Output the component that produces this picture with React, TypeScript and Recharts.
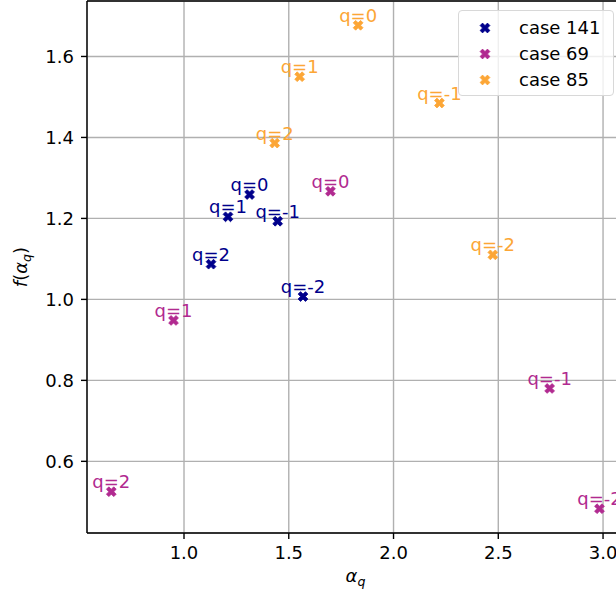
import {
  ScatterChart,
  Scatter,
  XAxis,
  YAxis,
  CartesianGrid,
  ReferenceLine,
  Legend,
} from "recharts";

const qLabels = ["q=2", "q=1", "q=0", "q=-1", "q=-2"];

const case141Alpha = [1.129, 1.21, 1.313, 1.447, 1.568];
const case141F = [1.087, 1.204, 1.259, 1.193, 1.007];

const case69Alpha = [0.653, 0.95, 1.699, 2.745, 2.983];
const case69F = [0.525, 0.948, 1.267, 0.78, 0.483];

const case85Alpha = [1.433, 1.552, 1.831, 2.219, 2.474];
const case85F = [1.386, 1.55, 1.677, 1.485, 1.11];

const xTicks = [1.0, 1.5, 2.0, 2.5, 3.0];
const yTicks = [0.6, 0.8, 1.0, 1.2, 1.4, 1.6];
const xDomain: [number, number] = [0.537, 3.1];
const yDomain: [number, number] = [0.423, 1.737];

const series = [
  { name: "case 141", color: "#00008b", alpha: case141Alpha, f: case141F },
  { name: "case 69", color: "#b12a90", alpha: case69Alpha, f: case69F },
  { name: "case 85", color: "#fca636", alpha: case85Alpha, f: case85F },
];

const toRows = (alpha: number[], f: number[]) =>
  alpha.map((a, i) => ({ alpha: a, f: f[i], label: qLabels[i] }));

const FONT = "DejaVu Sans, sans-serif";
const FS = 18;
const MARKER = 10.4;

// matplotlib "X" filled marker: a plus shape rotated by 45 degrees
const plusVerts = [
  [-1, -3], [1, -3], [1, -1], [3, -1], [3, 1], [1, 1],
  [1, 3], [-1, 3], [-1, 1], [-3, 1], [-3, -1], [-1, -1],
];
const xPath = (cx: number, cy: number, size: number) => {
  const s = size / 6;
  const c = Math.SQRT1_2;
  return (
    plusVerts
      .map(([px, py], i) => {
        const rx = (px * c - py * c) * s + cx;
        const ry = (px * c + py * c) * s + cy;
        return `${i === 0 ? "M" : "L"}${rx.toFixed(2)},${ry.toFixed(2)}`;
      })
      .join(" ") + " Z"
  );
};

const makeShape = (color: string) => (props: any) => {
  const { cx, cy, payload } = props;
  return (
    <g>
      <path d={xPath(cx, cy, MARKER)} fill={color} stroke={color} strokeWidth={0.8} />
      <text
        x={cx}
        y={cy - 3.5}
        textAnchor="middle"
        fill={color}
        fontSize={FS}
        fontFamily={FONT}
      >
        {payload.label}
      </text>
    </g>
  );
};

const LegendBox = () => (
  <div
    style={{
      width: 156,
      height: 86,
      border: "1px solid #d8d8d8",
      borderRadius: 4,
      background: "rgba(255,255,255,0.8)",
      boxSizing: "border-box",
    }}
  >
    <svg width={156} height={86}>
      {series.map((s, i) => (
        <g key={s.name}>
          <path
            d={xPath(26, 17 + i * 26, MARKER)}
            fill={s.color}
            stroke={s.color}
            strokeWidth={0.8}
          />
          <text x={60} y={17 + i * 26} dy="0.36em" fontSize={FS} fontFamily={FONT} fill="#000">
            {s.name}
          </text>
        </g>
      ))}
    </svg>
  </div>
);

const XLabel = (props: any) => {
  const { viewBox } = props;
  const x = viewBox.x + viewBox.width / 2;
  const y = viewBox.y + 49;
  return (
    <text x={x} y={y} textAnchor="middle" fontFamily={FONT} fontSize={FS} fill="#000">
      <tspan fontStyle="italic">α</tspan>
      <tspan fontStyle="italic" fontSize={FS * 0.7} dy={4}>q</tspan>
    </text>
  );
};

const YLabel = (props: any) => {
  const { viewBox } = props;
  const cy = viewBox.y + viewBox.height / 2;
  const x = 27;
  return (
    <text
      x={x}
      y={cy}
      transform={`rotate(-90, ${x}, ${cy})`}
      textAnchor="middle"
      fontFamily={FONT}
      fontSize={FS}
      fill="#000"
    >
      <tspan fontStyle="italic">f</tspan>
      <tspan>(</tspan>
      <tspan fontStyle="italic">α</tspan>
      <tspan fontStyle="italic" fontSize={FS * 0.7} dy={4}>q</tspan>
      <tspan dy={-4}>)</tspan>
    </text>
  );
};

const tickStyle = { fontSize: FS, fontFamily: FONT, fill: "#000" };

export default function App() {
  return (
    <div
      style={{
        position: "fixed",
        top: 0,
        left: 0,
        width: 616,
        height: 592,
        overflow: "hidden",
        background: "#fff",
      }}
    >
      <ScatterChart
        width={640}
        height={592}
        margin={{ top: 1, right: 16, bottom: 0, left: 0 }}
      >
        <CartesianGrid stroke="#b0b0b0" strokeWidth={1.4} />
        <XAxis
          type="number"
          dataKey="alpha"
          domain={xDomain}
          ticks={xTicks}
          tickFormatter={(v: number) => v.toFixed(1)}
          allowDataOverflow
          height={59}
          tick={tickStyle}
          tickSize={6}
          tickMargin={7}
          axisLine={{ stroke: "#000", strokeWidth: 1.4 }}
          tickLine={{ stroke: "#000", strokeWidth: 1.4 }}
          label={{ content: XLabel }}
        />
        <YAxis
          type="number"
          dataKey="f"
          domain={yDomain}
          ticks={yTicks}
          tickFormatter={(v: number) => v.toFixed(1)}
          allowDataOverflow
          width={87}
          tick={tickStyle}
          tickSize={6}
          tickMargin={7}
          axisLine={{ stroke: "#000", strokeWidth: 1.4 }}
          tickLine={{ stroke: "#000", strokeWidth: 1.4 }}
          label={{ content: YLabel }}
        />
        <ReferenceLine y={yDomain[1]} stroke="#000" strokeWidth={1.4} />
        {series.map((s) => (
          <Scatter
            key={s.name}
            name={s.name}
            data={toRows(s.alpha, s.f)}
            fill={s.color}
            shape={makeShape(s.color)}
            isAnimationActive={false}
          />
        ))}
        <Legend
          layout="vertical"
          align="center"
          verticalAlign="middle"
          content={LegendBox}
          wrapperStyle={{ position: "absolute", top: 10, left: 458, width: 156, height: 86 }}
        />
      </ScatterChart>
    </div>
  );
}
